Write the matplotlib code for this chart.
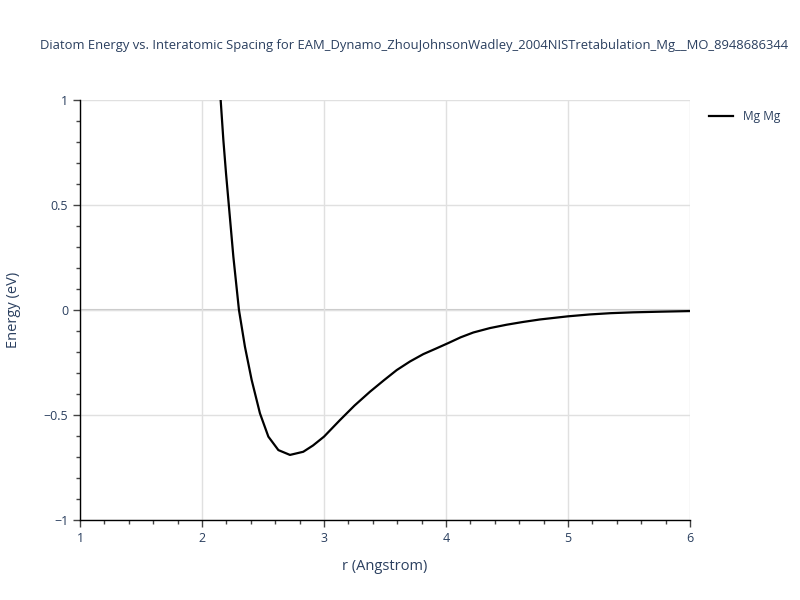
import numpy as np
import matplotlib.pyplot as plt
from matplotlib.ticker import MultipleLocator

plt.rcParams['font.family'] = ['Open Sans', 'DejaVu Sans']
plt.rcParams['axes.unicode_minus'] = True

# values
r = [2.153, 2.175, 2.197, 2.257, 2.303, 2.352, 2.407, 2.475, 2.544, 2.626,
     2.721, 2.830, 2.91, 3.0, 3.131, 3.25, 3.377, 3.49, 3.596, 3.705, 3.814, 3.92,
     4.02, 4.12, 4.224, 4.36, 4.497, 4.63, 4.77, 5.0, 5.18, 5.35, 5.535, 5.75, 6.0]
energy = [1.0, 0.81, 0.65, 0.254, 0.0, -0.175, -0.333, -0.492, -0.603, -0.667,
          -0.690, -0.675, -0.645, -0.603, -0.524, -0.455, -0.389, -0.335, -0.286, -0.245, -0.210, -0.183,
          -0.157, -0.130, -0.107, -0.086, -0.070, -0.057, -0.045, -0.030, -0.021, -0.015, -0.011, -0.008, -0.005]

title = 'Diatom Energy vs. Interatomic Spacing for EAM_Dynamo_ZhouJohnsonWadley_2004NISTretabulation_Mg__MO_8948686344'
text_col = '#2a3f5f'
grid_col = '#e0e0e0'

fig = plt.figure(figsize=(8, 6), dpi=100)
ax = fig.add_axes([0.1, 0.1333, 0.7625, 0.7])

ax.plot(r, energy, color='black', lw=1.6, label='Mg Mg', zorder=3)

ax.set_xlim(1, 6)
ax.set_ylim(-1, 1)
ax.xaxis.set_major_locator(MultipleLocator(1))
ax.xaxis.set_minor_locator(MultipleLocator(0.2))
ax.yaxis.set_major_locator(MultipleLocator(0.5))
ax.yaxis.set_minor_locator(MultipleLocator(0.1))
ax.yaxis.set_major_formatter(plt.FuncFormatter(
    lambda v, p: '0' if abs(v) < 1e-9 else ('{:g}'.format(v)).replace('-', '\u2212')))

ax.grid(True, which='major', color=grid_col, lw=1, zorder=0)
ax.axhline(0, color='#c8c8c8', lw=1.5, zorder=1)
for s in ['top', 'right']:
    ax.spines[s].set_visible(False)
for s in ['left', 'bottom']:
    ax.spines[s].set_color('black')
    ax.spines[s].set_linewidth(1)

ax.tick_params(which='major', direction='out', length=5, width=1, color='#444444',
               labelcolor=text_col, labelsize=9)
ax.tick_params(which='minor', direction='out', length=3, width=1, color='#444444')

ax.set_xlabel('r (Angstrom)', color=text_col, fontsize=10.5, labelpad=10)
ax.set_ylabel('Energy (eV)', color=text_col, fontsize=10.5, labelpad=16)

fig.text(0.05, 0.925, title, color=text_col, fontsize=9.4, ha='left', va='center')

ax.legend(loc='upper left', bbox_to_anchor=(0.873, 0.835), bbox_transform=fig.transFigure,
          frameon=False, fontsize=8.6, handlelength=2.0, labelcolor=text_col)

fig.savefig('out.png', dpi=100)
